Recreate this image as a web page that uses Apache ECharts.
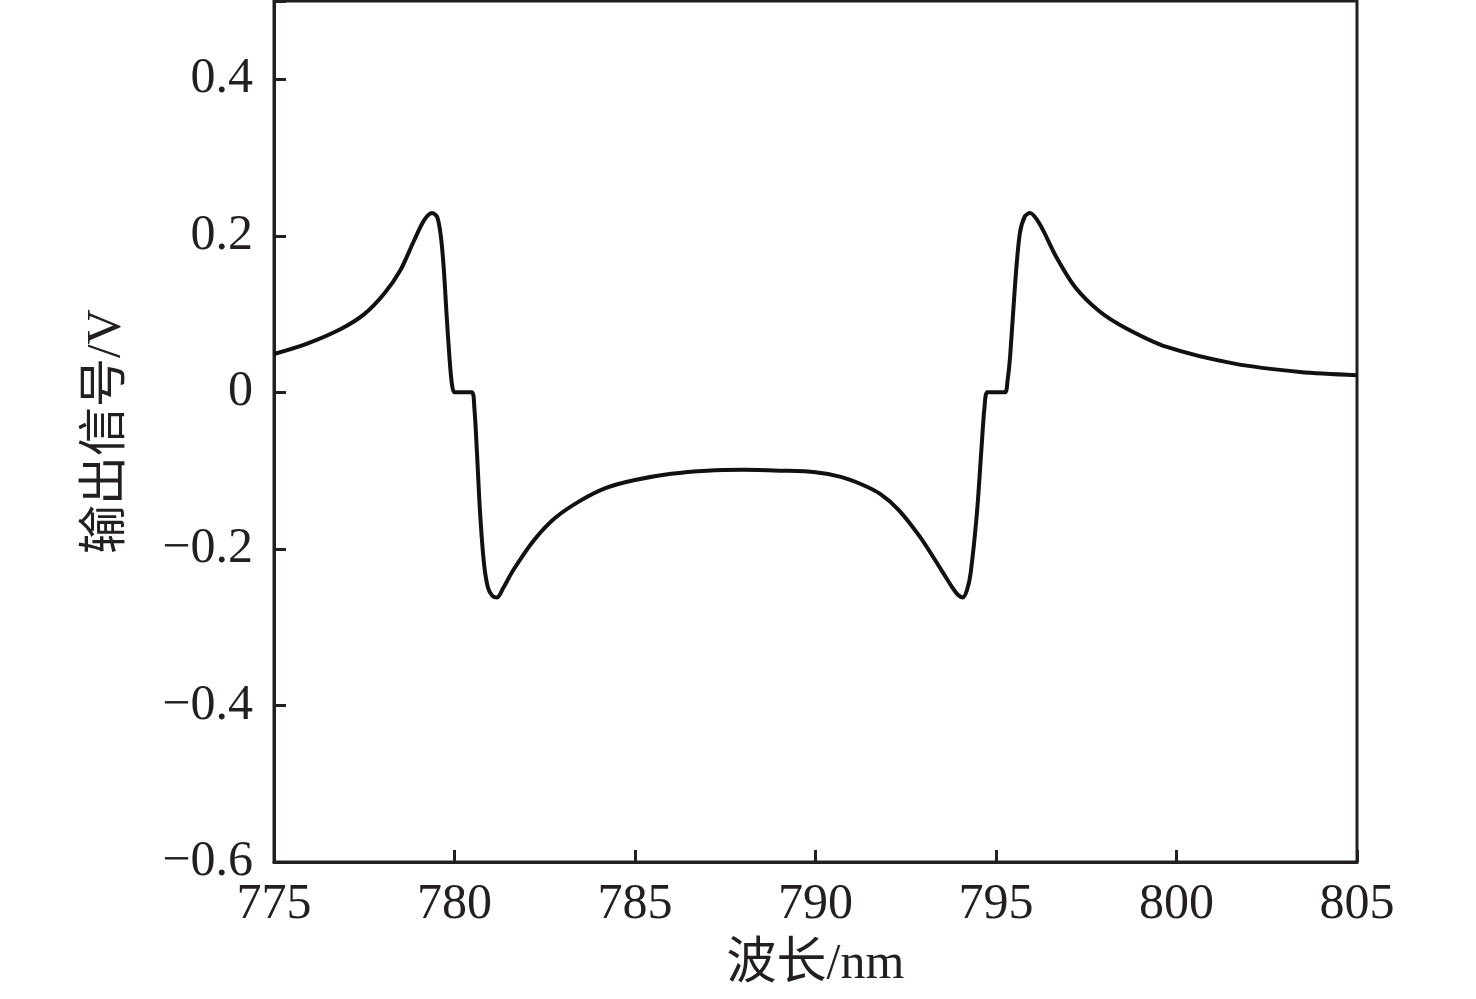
<!DOCTYPE html>
<html>
<head>
<meta charset="utf-8">
<script src="https://cdn.jsdelivr.net/npm/echarts@6/dist/echarts.min.js"></script>
<style>html,body{margin:0;padding:0;background:#fff}#c{width:1476px;height:999px}</style>
</head>
<body>
<div id="c"></div>
<script>
const wavelength = [775.0,775.9,776.85,777.5,778.05,778.5,778.88,779.16,779.38,779.52,779.62,779.7,779.78,779.86,779.93,780.0,780.2,780.48,780.55,780.62,780.71,780.82,780.93,781.05,781.18,781.35,781.63,782.2,782.8,783.5,784.2,785.0,786.0,787.0,788.0,789.0,790.0,790.7,791.3,791.8,792.3,792.9,793.5,793.8,793.95,794.08,794.2,794.3,794.47,794.6,794.68,794.76,795.0,795.25,795.32,795.39,795.53,795.66,795.8,795.94,796.21,796.67,797.2,797.88,798.6,799.73,801.57,803.42,805.0];
const signal = [0.049,0.062,0.081,0.100,0.126,0.156,0.194,0.220,0.229,0.224,0.200,0.160,0.100,0.045,0.010,0.000,0.000,0.000,-0.020,-0.075,-0.155,-0.220,-0.250,-0.260,-0.262,-0.250,-0.227,-0.189,-0.160,-0.138,-0.122,-0.112,-0.104,-0.100,-0.099,-0.100,-0.102,-0.108,-0.118,-0.130,-0.150,-0.185,-0.228,-0.250,-0.259,-0.262,-0.252,-0.230,-0.155,-0.070,-0.020,0.000,0.000,0.000,0.015,0.045,0.139,0.203,0.225,0.229,0.215,0.173,0.134,0.103,0.082,0.058,0.037,0.026,0.022];
const xTicks = {min: 775, max: 805, interval: 5};
const yTicks = {min: -0.6, max: 0.5, interval: 0.2};
const xName = '波长/nm';
const yName = '输出信号/V';

const ink = '#231f20';
const serif = '"Liberation Serif","Times New Roman","Noto Sans CJK SC",serif';
const chart = echarts.init(document.getElementById('c'), null, {renderer: 'canvas'});
chart.setOption({
  animation: false,
  backgroundColor: '#fff',
  grid: {left: 274, right: 119, top: 1, bottom: 137, show: true, borderColor: ink, borderWidth: 3, backgroundColor: 'transparent'},
  xAxis: {
    type: 'value', min: xTicks.min, max: xTicks.max, interval: xTicks.interval,
    name: xName, nameLocation: 'middle', nameGap: 78,
    nameTextStyle: {fontFamily: serif, fontSize: 50, color: ink},
    axisLine: {show: true, onZero: false, lineStyle: {color: ink, width: 3}},
    axisTick: {show: true, inside: true, length: 12, lineStyle: {color: ink, width: 3}},
    axisLabel: {fontFamily: serif, fontSize: 50, color: ink, margin: 18},
    splitLine: {show: false}
  },
  yAxis: {
    type: 'value', min: yTicks.min, max: yTicks.max, interval: yTicks.interval,
    name: yName, nameLocation: 'middle', nameGap: 142,
    nameTextStyle: {fontFamily: serif, fontSize: 49, color: ink},
    axisLine: {show: true, onZero: false, lineStyle: {color: ink, width: 3}},
    axisTick: {show: true, inside: true, length: 12, lineStyle: {color: ink, width: 3}},
    axisLabel: {fontFamily: serif, fontSize: 50, color: ink, margin: 21,
      formatter: v => {
        if (Math.abs(v - yTicks.max) < 1e-9) return '';
        const r = Math.round(v * 10) / 10;
        if (r === 0) return '0';
        return (r < 0 ? '\u2212' : '') + Math.abs(r).toFixed(1);
      }},
    splitLine: {show: false}
  },
  series: [{
    type: 'line',
    data: wavelength.map((w, i) => [w, signal[i]]),
    showSymbol: false,
    smooth: 0.3,
    lineStyle: {color: '#111', width: 4}
  }]
});
</script>
</body>
</html>
